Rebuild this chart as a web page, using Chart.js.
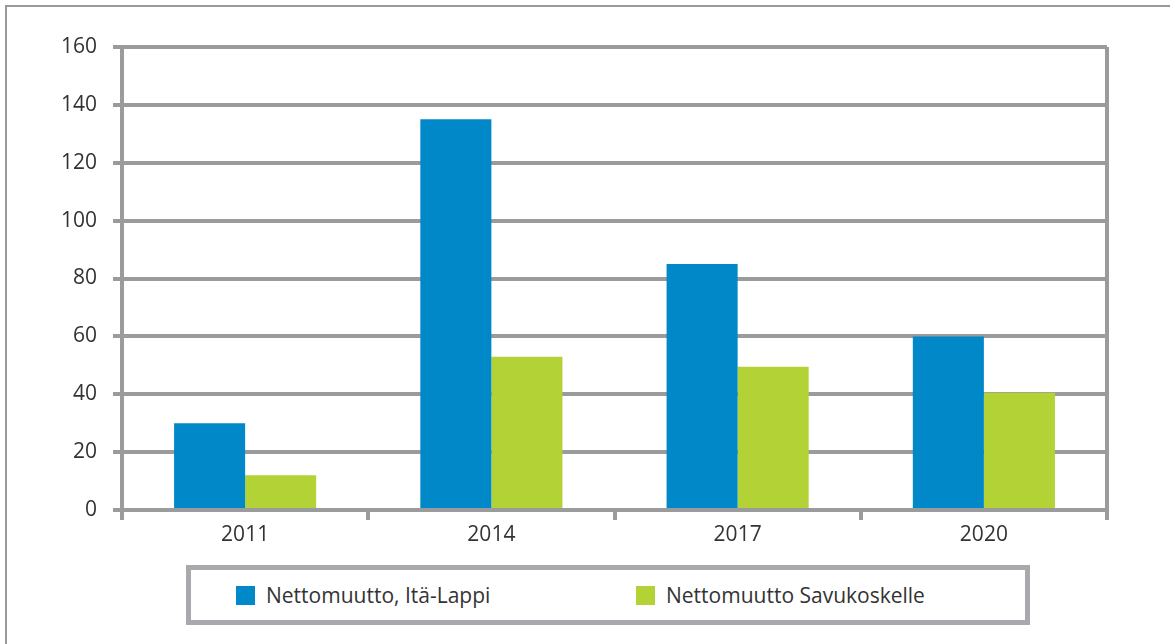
<!DOCTYPE html>
<html lang="fi">

<head>
    <meta charset="UTF-8">
    <title>Nettomuutto</title>
    <script src="https://cdn.jsdelivr.net/npm/chart.js"></script>
    <style>
        body { margin: 0; background: #fff; overflow: hidden; font-family: 'Open Sans', sans-serif; }
        #kehys { position: absolute; left: 5px; top: 5px; width: 1300px; height: 800px;
                 border-top: 2px solid #999; border-left: 2px solid #999; }
        #kaavio { position: absolute; left: 0; top: 0; }
        #selite { position: absolute; left: 186px; top: 565px; width: 834px; height: 50px;
                  border: 5px solid #a7a9ac; display: flex; align-items: center; box-sizing: content-box; }
        .kohta { width: 400px; flex-shrink: 0; display: flex; align-items: center; font-size: 21px; color: #333; }
        .kohta:first-child { padding-left: 45px; }
        .laatikko { width: 19px; height: 19px; margin-right: 11px; }
    </style>
</head>

<body>
    <div id="kehys"></div>
    <canvas id="kaavio" width="1170" height="560"></canvas>
    <div id="selite"></div>

    <script>
        // Tiedot
        const vuodet = ['2011', '2014', '2017', '2020'];
        const itaLappi = [30, 135, 85, 60];
        const savukoskelle = [12, 53, 49.5, 40.5];
        const sarjaNimet = ['Nettomuutto, Itä-Lappi', 'Nettomuutto Savukoskelle'];
        const varit = ['#0088c9', '#b2d235'];

        const harmaa = '#999b9d';
        const fontti = { family: "'Open Sans', sans-serif", size: 21 };

        const ctx = document.getElementById('kaavio').getContext('2d');
        const kaavio = new Chart(ctx, {
            type: 'bar',
            data: {
                labels: vuodet,
                datasets: [
                    { label: sarjaNimet[0], data: itaLappi, backgroundColor: varit[0] },
                    { label: sarjaNimet[1], data: savukoskelle, backgroundColor: varit[1] }
                ]
            },
            options: {
                responsive: false,
                animation: false,
                categoryPercentage: 0.577,
                barPercentage: 1,
                layout: { padding: { left: 0, right: 63, top: 47, bottom: 0 } },
                plugins: {
                    legend: { display: false },
                    tooltip: { enabled: false }
                },
                scales: {
                    x: {
                        grid: {
                            offset: true,
                            lineWidth: 4,
                            tickLength: 10,
                            // vain oikea reuna piirretään koko korkeudelle
                            color: c => c.type === 'scale' ? harmaa : 'transparent',
                            tickColor: harmaa
                        },
                        border: { color: harmaa, width: 4 },
                        ticks: { font: fontti, color: '#333', padding: 2 },
                        afterFit: a => { a.height = 50; }
                    },
                    y: {
                        min: 0,
                        max: 160,
                        grid: { color: harmaa, lineWidth: 4, tickLength: 9 },
                        border: { color: harmaa, width: 4 },
                        ticks: { stepSize: 20, font: fontti, color: '#333', padding: 16 },
                        afterFit: a => { a.width = 122; }
                    }
                }
            }
        });

        // Selite HTML:nä aineistosarjoista
        const selite = document.getElementById('selite');
        kaavio.data.datasets.forEach(ds => {
            const kohta = document.createElement('div');
            kohta.className = 'kohta';
            const laatikko = document.createElement('span');
            laatikko.className = 'laatikko';
            laatikko.style.background = ds.backgroundColor;
            kohta.appendChild(laatikko);
            kohta.appendChild(document.createTextNode(ds.label));
            selite.appendChild(kohta);
        });
    </script>
</body>

</html>
